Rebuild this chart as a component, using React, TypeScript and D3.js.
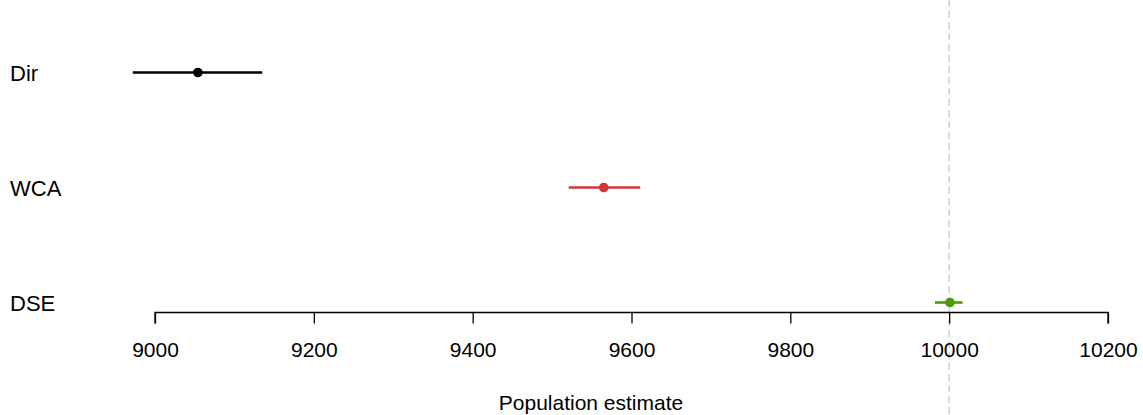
import React, { useRef, useEffect } from "react";
import * as d3 from "d3";

const methods = ["Dir", "WCA", "DSE"];
const estimates = [9054, 9565, 10001];
const lower = [8972, 9521, 9982];
const upper = [9135, 9611, 10017];
const colors = ["#000000", "#d33838", "#4e9a0c"];
const xTicks = [9000, 9200, 9400, 9600, 9800, 10000, 10200];
const trueValue = 10000;

export default function App() {
  const ref = useRef<SVGSVGElement>(null);

  useEffect(() => {
    const svg = d3.select(ref.current);
    svg.selectAll("*").remove();

    const width = 1143;
    const height = 415;
    const font = "Liberation Sans, Arial, sans-serif";

    const x = d3.scaleLinear().domain([9000, 10200]).range([155, 1108]);
    const y = d3.scalePoint().domain(methods).range([72.5, 302.5]);

    svg.attr("width", width).attr("height", height);

    // true value reference
    svg
      .append("line")
      .attr("x1", x(trueValue))
      .attr("x2", x(trueValue))
      .attr("y1", 0)
      .attr("y2", height)
      .attr("stroke", "#c4c4c4")
      .attr("stroke-width", 1.2)
      .attr("stroke-dasharray", "7,4");

    // axis
    const axis = d3.axisBottom(x).tickValues(xTicks).tickSize(11).tickPadding(19).tickFormat(d3.format("d"));
    const g = svg.append("g").attr("transform", "translate(0,312.5)").call(axis);
    g.select(".domain").attr("d", `M${x(9000)},11V0H${x(10200)}V11`).attr("stroke", "#000").attr("stroke-width", 1.3);
    g.selectAll(".tick line").attr("stroke", "#000").attr("stroke-width", 1.3);
    g.selectAll(".tick text").attr("font-size", 21).attr("font-family", font).attr("fill", "#000");

    svg
      .append("text")
      .attr("x", 591)
      .attr("y", 410)
      .attr("text-anchor", "middle")
      .attr("font-size", 21)
      .attr("font-family", font)
      .text("Population estimate");

    // labels
    svg
      .selectAll(".lab")
      .data(methods)
      .join("text")
      .attr("x", 10)
      .attr("y", (d) => y(d)! + 8.5)
      .attr("font-size", 22)
      .attr("font-family", font)
      .text((d) => d);

    // intervals
    svg
      .selectAll(".ci")
      .data(methods)
      .join("line")
      .attr("x1", (_, i) => x(lower[i]))
      .attr("x2", (_, i) => x(upper[i]))
      .attr("y1", (d) => y(d)!)
      .attr("y2", (d) => y(d)!)
      .attr("stroke", (_, i) => colors[i])
      .attr("stroke-width", 2.6);

    svg
      .selectAll(".pt")
      .data(methods)
      .join("circle")
      .attr("cx", (_, i) => x(estimates[i]))
      .attr("cy", (d) => y(d)!)
      .attr("r", 4.8)
      .attr("fill", (_, i) => colors[i]);
  }, []);

  return <svg ref={ref} style={{ position: "absolute", left: 0, top: 0 }}></svg>;
}
